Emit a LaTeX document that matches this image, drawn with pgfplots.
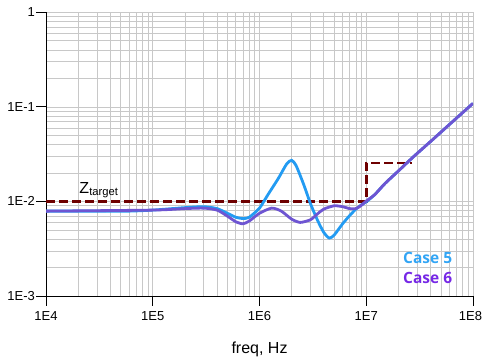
\documentclass[border=0pt]{standalone}
\usepackage{fontspec}
\setmainfont{Liberation Sans}
\newfontfamily\casefont{Open Sans}
\usepackage{pgfplots}
\pgfplotsset{compat=1.18}
\definecolor{caseA}{RGB}{35,155,242}
\definecolor{caseB}{RGB}{110,85,210}
\definecolor{caseBtext}{RGB}{118,40,230}
\definecolor{caseAtext}{RGB}{50,165,245}
\definecolor{target}{RGB}{110,0,0}
\definecolor{gridc}{RGB}{200,200,200}
\begin{document}
\begin{tikzpicture}
\useasboundingbox (0,0) rectangle (483bp,358bp);
\begin{axis}[
 at={(46bp,62bp)}, anchor=south west,
 scale only axis, width=427bp, height=283.7bp,
 xmode=log, ymode=log,
 xmin=1e4, xmax=1e8, ymin=1e-3, ymax=1,
 axis x line*=bottom, axis y line*=left,
 axis line style={black, line width=0.8bp, -},
 xtick={1e4,1e5,1e6,1e7,1e8}, xticklabels={1E4,1E5,1E6,1E7,\hspace*{-5bp}1E8},
 ytick={1e-3,1e-2,1e-1,1}, yticklabels={1E-3,1E-2,1E-1,1},
 tick align=outside, major tick length=10bp, minor tick length=0pt,
 tick style={black, line width=0.8bp},
 grid=both,
 major grid style={gridc, line width=0.7bp},
 minor grid style={gridc, line width=0.7bp},
 ticklabel style={font=\fontsize{13bp}{14bp}\selectfont},
 yticklabel style={inner sep=1bp},
 xticklabel style={yshift=-2bp, inner xsep=0pt},
 xlabel={freq, Hz},
 xlabel style={font=\fontsize{16bp}{18bp}\selectfont, yshift=-14bp},
]
\addplot[target, line width=2.5bp, dash pattern=on 9bp off 4bp] coordinates {
 (1e4,0.01) (1e7,0.01) (1e7,0.0256) (2.7e7,0.0256)};
\addplot[caseA, line width=2.8bp, smooth, tension=0.4] coordinates {
 (1e4,0.0079) (3e4,0.0079) (6e4,0.0079) (1e5,0.0081) (2e5,0.0086) (3e5,0.0088)
 (4e5,0.0084) (5e5,0.0075) (6e5,0.0068) (7e5,0.0066) (8e5,0.0068) (1e6,0.0085)
 (1.2e6,0.0118) (1.5e6,0.0175) (1.8e6,0.025) (2e6,0.0272) (2.2e6,0.024)
 (2.6e6,0.015) (3e6,0.0095) (3.5e6,0.0063) (4e6,0.0047) (4.5e6,0.0041)
 (5e6,0.0044) (6e6,0.0058) (7e6,0.0071) (8e6,0.0083) (9e6,0.0092) (1e7,0.0099)
 (1.2e7,0.0118) (1.5e7,0.0155) (2e7,0.021) (2.76e7,0.0296) (4e7,0.043)
 (6e7,0.065) (1e8,0.109)};
\addplot[caseB, line width=2.8bp, smooth, tension=0.4] coordinates {
 (1e4,0.0079) (1e5,0.0081) (2e5,0.0084) (3e5,0.0085) (4e5,0.0081) (5e5,0.0070)
 (6e5,0.0061) (7e5,0.0058) (8e5,0.0062) (1e6,0.0075) (1.3e6,0.0085)
 (1.6e6,0.0079) (2e6,0.0065) (2.4e6,0.0060) (3e6,0.0064) (3.5e6,0.0074)
 (4e6,0.0083) (5e6,0.0090) (6e6,0.0088) (7e6,0.0084) (8e6,0.0084)
 (9e6,0.0091) (1e7,0.0101)
 (1.2e7,0.0118) (1.5e7,0.0155) (2e7,0.021) (2.76e7,0.0296) (4e7,0.043)
 (6e7,0.065) (1e8,0.109)};
\node[anchor=base west, inner sep=0pt, font=\fontsize{16bp}{18bp}\selectfont]
 at (axis cs:2.05e4,0.01225) {Z\textsubscript{target}};
\node[anchor=base west, inner sep=0pt, text=caseAtext, font=\casefont\bfseries\fontsize{15.5bp}{18bp}\selectfont]
 at (axis cs:2.21e7,0.00221) {Case 5};
\node[anchor=base west, inner sep=0pt, text=caseBtext, font=\casefont\bfseries\fontsize{15.5bp}{18bp}\selectfont]
 at (axis cs:2.21e7,0.001356) {Case 6};
\end{axis}
\end{tikzpicture}
\end{document}
